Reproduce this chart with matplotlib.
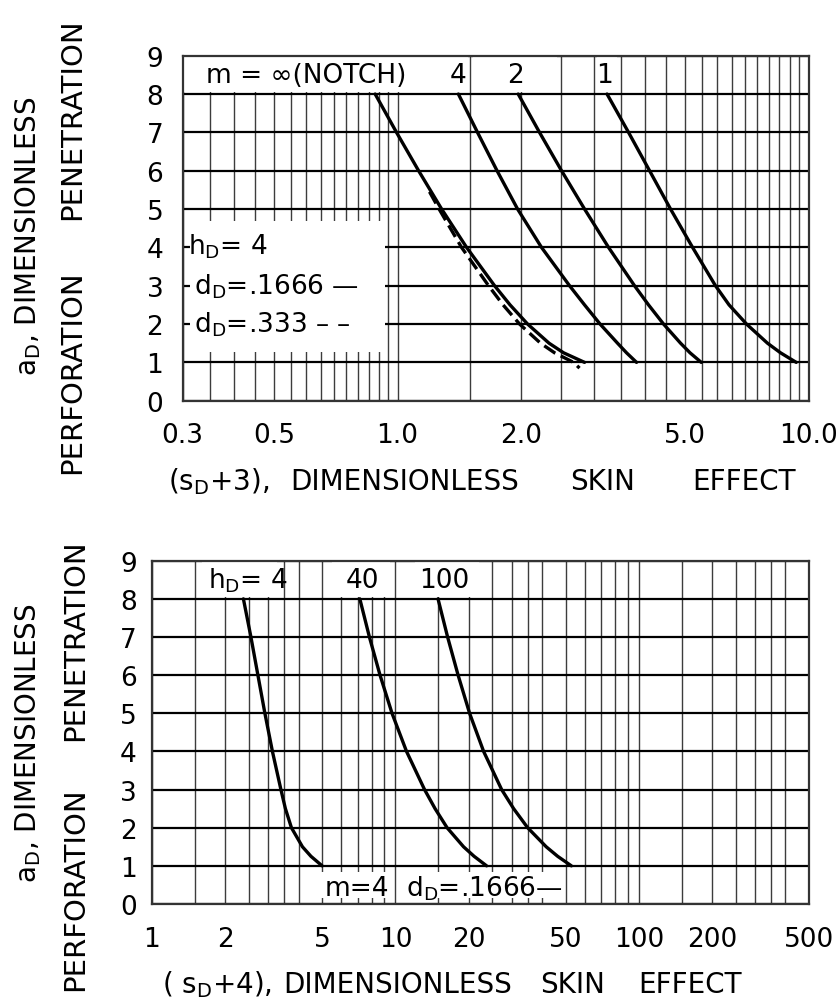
import numpy as np
import matplotlib
matplotlib.use("Agg")
import matplotlib.pyplot as plt

plt.rcParams['font.family'] = ['DejaVu Sans']
plt.rcParams['mathtext.default'] = 'regular'

W, H = 836, 1003

# ---- top chart: (sD+3) vs aD, hD = 4 ----
top_y = [8, 7, 6, 5, 4, 3, 2.5, 2, 1.5, 1.25, 1]
notch_x = [0.882, 0.994, 1.125, 1.280, 1.472, 1.722, 1.878, 2.072, 2.337, 2.535, 2.851]
m4_x = [1.406, 1.565, 1.746, 1.959, 2.240, 2.621, 2.851, 3.110, 3.430, 3.607, 3.815]
m2_x = [1.966, 2.215, 2.506, 2.851, 3.261, 3.772, 4.080, 4.438, 4.883, 5.148, 5.483]
m1_x = [3.234, 3.648, 4.104, 4.616, 5.222, 5.937, 6.407, 7.065, 7.947, 8.548, 9.335]
dash_y = [5.45, 5, 4, 3, 2.5, 2, 1.5, 1.25, 1, 0.85]
dash_x = [1.196, 1.262, 1.431, 1.665, 1.806, 1.981, 2.228, 2.410, 2.681, 2.772]

top_ticks = [0.3, 0.5, 1.0, 2.0, 5.0, 10.0]
top_ticklabels = ['0.3', '0.5', '1.0', '2.0', '5.0', '10.0']
top_grid = [0.35, 0.4, 0.45, 0.55, 0.6, 0.65, 0.7, 0.75, 0.8, 0.85, 0.9, 0.95,
            1.5, 2.5, 3.0, 3.5, 4.0, 4.5, 5.5, 6.0, 6.5, 7.0, 7.5, 8.0, 8.5, 9.0, 9.5]

# ---- bottom chart: (sD+4) vs aD, m = 4 ----
bot_y = [8, 7, 6, 5, 4, 3, 2.5, 2, 1.5, 1.25, 1]
h4_x = [2.374, 2.549, 2.723, 2.909, 3.124, 3.385, 3.532, 3.739, 4.150, 4.498, 5.0]
h40_x = [7.14, 7.818, 8.645, 9.683, 11.107, 13.17, 14.55, 16.30, 19.05, 21.05, 23.69]
h100_x = [14.96, 16.38, 18.09, 20.17, 23.03, 27.31, 30.59, 34.93, 41.63, 46.40, 52.83]

bot_ticks = [1, 2, 5, 10, 20, 50, 100, 200, 500]
bot_ticklabels = ['1', '2', '5', '10', '20', '50', '100', '200', '500']
bot_grid = [1.5, 2.5, 3, 3.5, 4, 6, 7, 8, 9, 15, 25, 30, 35, 40, 60, 70, 80, 90,
            150, 250, 300, 350, 400]

y_ticks = list(range(10))
y_ticklabels = [str(v) for v in y_ticks]

FS = 19
LFS = 20


def rect(l, t, r, b):
    return [l / W, 1 - b / H, (r - l) / W, (b - t) / H]


def px(x, y):
    return x / W, 1 - y / H


def setup(ax, xlim, ticks, labels, grid, ypad, xpad):
    ax.set_xscale('log')
    ax.set_xlim(*xlim)
    ax.set_ylim(0, 9)
    ax.set_axisbelow(True)
    ax.set_xticks(ticks)
    ax.set_xticklabels(labels)
    ax.set_xticks(grid, minor=True)
    ax.xaxis.set_minor_formatter(plt.NullFormatter())
    ax.set_yticks(y_ticks)
    ax.set_yticklabels(y_ticklabels)
    ax.tick_params(which='both', length=0, labelsize=FS)
    ax.tick_params(axis='y', pad=ypad)
    ax.tick_params(axis='x', pad=xpad)
    ax.grid(True, which='both', axis='x', color='#1a1a1a', lw=1.0, alpha=0.85)
    ax.grid(True, which='major', axis='y', color='black', lw=1.6)
    for s in ax.spines.values():
        s.set_linewidth(1.6)
        s.set_color('#333333')


def white_box(ax, x0, x1, y0, y1):
    ax.fill_between([x0, x1], y0, y1, color='white', lw=0, zorder=1)


def xlabel_words(words, centers, yc):
    for w, x in zip(words, centers):
        fig.text(*px(x, yc), w, fontsize=LFS, ha='center', va='center')


def ylabel_words(xc, words, centers):
    # rotated text reads bottom to top
    for w, y in zip(words, centers):
        fig.text(*px(xc, y), w, fontsize=LFS + 1, rotation=90,
                 ha='center', va='center')


fig = plt.figure(figsize=(W / 100, H / 100), dpi=100)

# top chart
ax1 = fig.add_axes(rect(182.7, 56.7, 808.5, 401.7))
setup(ax1, (0.3, 10.0), top_ticks, top_ticklabels, top_grid, 14, 15)
white_box(ax1, 0.3, 1.48, 8.05, 8.97)
white_box(ax1, 1.53, 2.45, 8.05, 8.97)
white_box(ax1, 3.05, 3.42, 8.05, 8.97)
white_box(ax1, 0.312, 0.93, 1.26, 4.7)

for xs in (notch_x, m4_x, m2_x, m1_x):
    ax1.plot(xs, top_y, color='black', lw=2.4, solid_capstyle='round',
             solid_joinstyle='round', zorder=3)
ax1.plot(dash_x, dash_y, color='black', lw=2.4, dashes=(4, 1.8), zorder=3)

ax1.text(0.341, 8.5, 'm = ∞(NOTCH)', fontsize=FS, va='center', ha='left')
ax1.text(1.40, 8.5, '4', fontsize=FS, va='center', ha='center')
ax1.text(1.94, 8.5, '2', fontsize=FS, va='center', ha='center')
ax1.text(3.19, 8.5, '1', fontsize=FS, va='center', ha='center')
ax1.text(0.309, 4.05, 'h$_D$= 4', fontsize=FS, va='center', ha='left')
ax1.text(0.320, 3.0, 'd$_D$=.1666 —', fontsize=FS, va='center', ha='left')
ax1.text(0.320, 2.0, 'd$_D$=.333 – –', fontsize=FS, va='center', ha='left')

xlabel_words(['(s$_D$+3),', 'DIMENSIONLESS', 'SKIN', 'EFFECT'],
             [219, 405, 603, 744], 482)
fig.text(*px(28, 236), 'a$_D$, DIMENSIONLESS', fontsize=LFS, rotation=90,
         ha='center', va='center')
ylabel_words(72, ['PERFORATION', 'PENETRATION'], [372, 119])

# bottom chart
ax2 = fig.add_axes(rect(152.0, 561.7, 809.0, 905.0))
setup(ax2, (1, 500), bot_ticks, bot_ticklabels, bot_grid, 11, 16)
white_box(ax2, 1.6, 3.25, 8.05, 8.97)
white_box(ax2, 5.5, 9.5, 8.05, 8.97)
white_box(ax2, 12.0, 22.0, 8.05, 8.97)
white_box(ax2, 4.4, 9.6, 0.15, 0.85)
white_box(ax2, 10.5, 47.0, 0.15, 0.85)

for xs in (h4_x, h40_x, h100_x):
    ax2.plot(xs, bot_y, color='black', lw=2.4, solid_capstyle='round',
             solid_joinstyle='round', zorder=3)

ax2.text(1.696, 8.5, 'h$_D$= 4', fontsize=FS, va='center', ha='left')
ax2.text(7.29, 8.5, '40', fontsize=FS, va='center', ha='center')
ax2.text(15.9, 8.5, '100', fontsize=FS, va='center', ha='center')
ax2.text(5.11, 0.42, 'm=4', fontsize=FS, va='center', ha='left')
ax2.text(11.08, 0.42, 'd$_D$=.1666—', fontsize=FS, va='center', ha='left')

xlabel_words(['( s$_D$+4),', 'DIMENSIONLESS', 'SKIN', 'EFFECT'],
             [217, 398, 573, 690], 985)
fig.text(*px(28, 743), 'a$_D$, DIMENSIONLESS', fontsize=LFS, rotation=90,
         ha='center', va='center')
ylabel_words(75, ['PERFORATION', 'PENETRATION'], [889, 640])

fig.savefig('out.png', dpi=100)
